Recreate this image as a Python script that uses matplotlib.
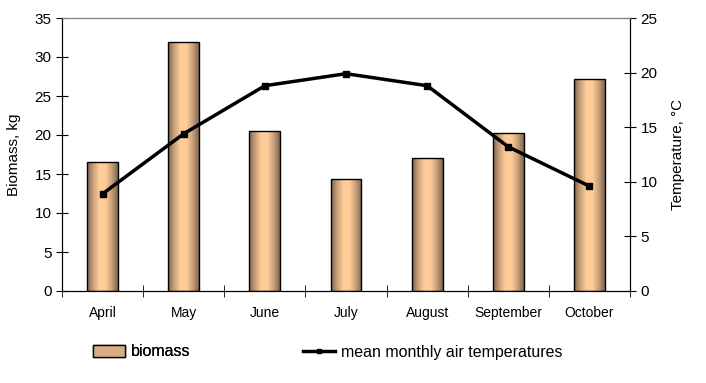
import numpy as np
import matplotlib
matplotlib.use('Agg')
import matplotlib.pyplot as plt
from matplotlib.colors import LinearSegmentedColormap
from matplotlib.lines import Line2D
from matplotlib.patches import Patch

plt.rcParams['font.family'] = ['Liberation Sans', 'DejaVu Sans']

months = ['April', 'May', 'June', 'July', 'August', 'September', 'October']
biomass = [16.5, 31.9, 20.5, 14.4, 17.0, 20.3, 27.2]
temperature = [8.9, 14.4, 18.8, 19.9, 18.8, 13.2, 9.6]

fig = plt.figure(figsize=(7.06, 3.83), dpi=100)
ax = fig.add_axes([62 / 706, 1 - 291 / 383, 568 / 706, 273 / 383])
ax2 = ax.twinx()

x = np.arange(len(months))
width = 0.38
bars = ax.bar(x, biomass, width, facecolor='none', edgecolor='black', linewidth=1, zorder=3)

# cylinder-like horizontal shading for each bar
cmap = LinearSegmentedColormap.from_list('cyl', ['#7d6650', '#c9a07a', '#ffcc99', '#ffcc99', '#c9a07a', '#7d6650'])
grad = np.linspace(0, 1, 256).reshape(1, -1)
for b in bars:
    im = ax.imshow(grad, cmap=cmap, aspect='auto', zorder=2,
                   extent=[b.get_x(), b.get_x() + b.get_width(), 0, b.get_height()])
    im.set_clip_path(b)

ax.set_xlim(-0.5, len(months) - 0.5)
ax.set_ylim(0, 35)
ax.set_yticks(range(0, 36, 5))
ax.set_xticks(x)
ax.set_xticklabels(months, fontsize=10)
ax.set_xticks(np.arange(-0.5, len(months)), minor=True)
ax.tick_params(axis='x', which='major', length=0, pad=11)
ax.tick_params(axis='x', which='minor', direction='inout', length=8)
ax.tick_params(axis='y', direction='inout', length=8, labelsize=11, colors='black')
ax.set_ylabel('Biomass, kg', fontsize=11, labelpad=10)

ax2.plot(x, temperature, color='black', linewidth=2.5, marker='s', markersize=4, zorder=4)
ax2.set_ylim(0, 25)
ax2.set_yticks(range(0, 26, 5))
ax2.tick_params(axis='y', direction='inout', length=8, labelsize=11)
ax2.set_ylabel('Temperature, \u00b0C', fontsize=11, labelpad=10)

for a in (ax, ax2):
    a.spines['top'].set_color('#808080')
    a.spines['left'].set_color('black')
    a.spines['right'].set_color('black')
    a.spines['bottom'].set_color('black')
ax.set_zorder(ax2.get_zorder() - 1)
ax2.patch.set_visible(False)

leg_kw = dict(loc='center left', frameon=False, fontsize=11.5, borderpad=0,
              borderaxespad=0, handlelength=2.0, handletextpad=0.35)
leg1 = fig.legend(handles=[Patch(facecolor='#d9ab80', edgecolor='black', label='biomass')],
                  bbox_to_anchor=(93 / 706, 1 - 352 / 383), **leg_kw)
fig.add_artist(leg1)
fig.legend(handles=[Line2D([], [], color='black', linewidth=2.5, marker='s', markersize=3.5,
                           label='mean monthly air temperatures')],
           bbox_to_anchor=(303 / 706, 1 - 352 / 383), **leg_kw)

fig.savefig('out.png', dpi=100)
